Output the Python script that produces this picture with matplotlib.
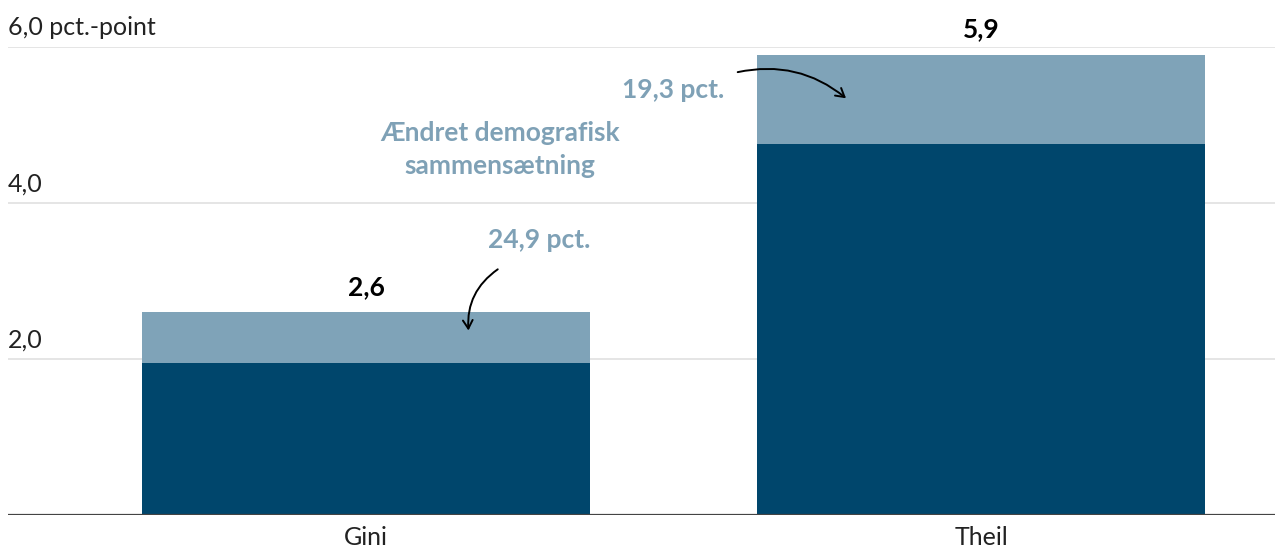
import matplotlib.pyplot as plt

plt.rcParams['font.family'] = ['Lato', 'DejaVu Sans']

# === Data ===
categories = ["Gini", "Theil"]
totals = [2.6, 5.9]            # pct.-point change
demo_share = [24.9, 19.3]      # pct. due to changed demographic composition
value_labels = ["2,6", "5,9"]
share_labels = ["24,9 pct.", "19,3 pct."]
y_ticks = [2.0, 4.0, 6.0]
y_tick_labels = ["2,0", "4,0", "6,0 pct.-point"]

demo_part = [t * s / 100 for t, s in zip(totals, demo_share)]
rest_part = [t - d for t, d in zip(totals, demo_part)]

dark = "#00466c"
light = "#7fa3b8"
note_color = "#7fa1b6"

fig = plt.figure(figsize=(12.75, 5.51), dpi=100)
ax = fig.add_axes([8 / 1275, 1 - 515 / 551, 1 - 8 / 1275, 468 / 551])

x = list(range(len(categories)))
bar_width = 0.728
ax.bar(x, rest_part, width=bar_width, color=dark, zorder=2)
ax.bar(x, demo_part, bottom=rest_part, width=bar_width, color=light, zorder=2)

ax.set_xlim(-0.582, 1.478)
ax.set_ylim(0, 6.0)

# gridlines + labels above them
for yv, lab in zip(y_ticks, y_tick_labels):
    ax.axhline(yv, color="#e3e3e3", lw=1.3, zorder=1)
    ax.text(-0.582, yv + 0.1, lab, fontsize=18, color="#222222",
            ha="left", va="bottom")
ax.axhline(0, color="#444444", lw=1.6, zorder=3)

ax.set_yticks([])
ax.set_xticks(x)
ax.set_xticklabels(categories, fontsize=18, color="#222222")
ax.tick_params(axis="x", length=0, pad=8)
for s in ax.spines.values():
    s.set_visible(False)

# totals above bars
for xi, t, lab in zip(x, totals, value_labels):
    ax.text(xi, t + 0.17, lab, fontsize=19, fontweight="bold",
            ha="center", va="bottom", color="black", clip_on=False)

# annotations
ax.text(0.218, 4.68, "Ændret demografisk\nsammensætning", fontsize=19,
        fontweight="bold", color=note_color, ha="center", va="center",
        linespacing=1.45)
ax.text(0.282, 3.53, share_labels[0], fontsize=19, fontweight="bold",
        color=note_color, ha="center", va="center")
ax.text(0.583, 5.45, share_labels[1], fontsize=19, fontweight="bold",
        color=note_color, ha="right", va="center")

ax.annotate("", xy=(0.167, 2.33), xytext=(0.218, 3.17),
            arrowprops=dict(arrowstyle="->,head_length=0.6,head_width=0.35",
                            color="black", lw=1.4,
                            connectionstyle="arc3,rad=0.3"))
ax.annotate("", xy=(0.784, 5.32), xytext=(0.6, 5.67),
            arrowprops=dict(arrowstyle="->,head_length=0.6,head_width=0.35",
                            color="black", lw=1.4,
                            connectionstyle="arc3,rad=-0.25"))

fig.savefig("out.png", dpi=100)
